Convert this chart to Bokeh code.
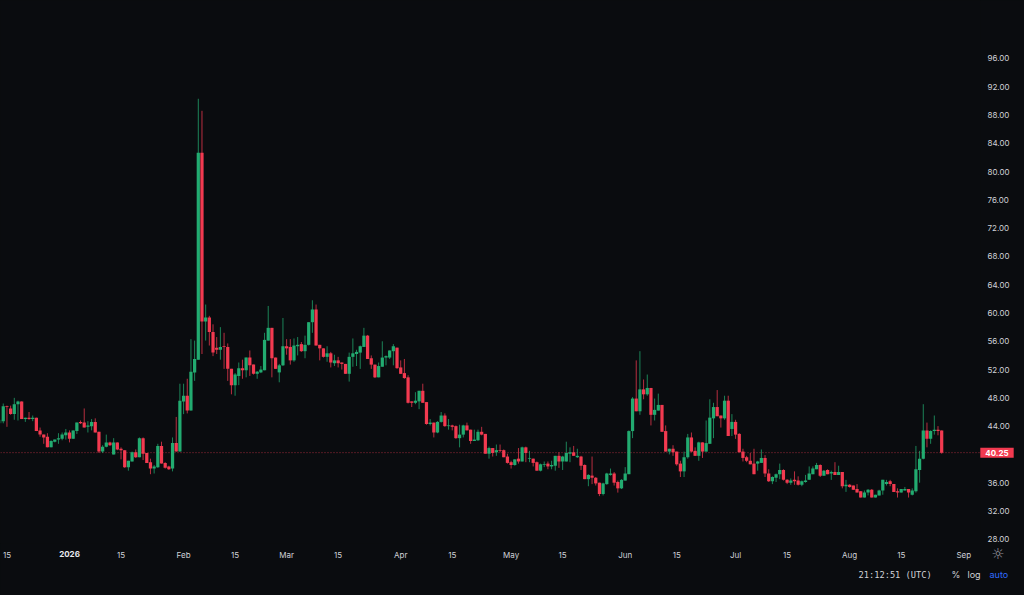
import pandas as pd
from bokeh.embed import file_html
from bokeh.resources import INLINE
from bokeh.plotting import figure
from bokeh.models import (ColumnDataSource, FixedTicker, Label, Span, Range1d,
                          NumeralTickFormatter, GlobalInlineStyleSheet)

first_day = "2025-12-13"
last_day = "2026-08-26"
last_price = 40.25

opens = [44.4,44.7,46.8,46.5,45.7,47.1,47.5,45.0,45.2,45.0,
 45.2,43.4,42.8,42.5,41.0,41.8,42.1,42.2,42.7,43.1,
 42.2,43.3,44.6,44.5,43.9,44.0,44.6,43.2,40.4,41.1,
 41.7,40.0,41.7,40.8,40.6,38.2,39.0,40.3,39.6,42.3,
 40.2,38.9,38.0,38.2,41.2,38.8,38.3,38.0,41.6,40.4,
 47.5,48.3,46.2,51.6,53.4,82.65,58.8,59.35,57.3,55.1,
 54.8,55.3,55.2,52.1,49.8,51.1,52.2,51.9,53.7,52.7,
 51.4,51.6,51.9,56.1,57.9,53.7,51.6,52.6,55.3,55.2,
 53.3,55.3,55.6,54.6,55.5,58.7,60.5,55.5,55.0,53.8,
 54.3,52.9,53.3,53.0,52.8,51.4,53.8,54.2,54.4,55.2,
 56.8,53.6,52.7,50.9,52.4,53.7,53.7,54.6,55.1,52.3,
 51.5,50.9,47.5,47.3,47.5,49.0,47.4,44.3,44.5,43.1,
 44.6,45.5,44.0,44.1,44.0,42.3,42.8,44.1,43.5,41.9,
 42.0,43.2,42.9,40.1,40.9,40.3,40.6,40.6,39.7,38.9,
 38.5,39.4,39.0,41.0,39.4,39.4,38.9,37.7,38.5,38.7,
 38.3,38.4,39.8,39.0,39.0,40.1,40.3,39.6,39.7,38.5,
 36.5,37.0,36.7,36.0,34.4,35.8,37.1,37.3,36.1,35.2,
 36.3,37.2,43.3,47.9,46.1,49.2,48.5,49.4,45.6,46.2,
 47.0,43.3,40.4,40.8,40.4,38.7,37.6,39.6,42.4,40.5,
 39.8,41.7,40.4,41.5,45.1,46.7,45.5,45.1,47.6,43.6,
 44.6,42.9,40.4,39.6,39.1,38.7,38.7,38.8,39.5,37.3,
 36.2,36.7,37.2,37.8,36.4,36.0,36.4,36.3,35.7,36.1,
 36.4,37.2,37.9,38.5,37.0,37.8,37.3,37.5,37.1,37.5,
 35.5,35.7,35.6,35.1,34.8,33.9,34.6,35.0,33.9,34.2,
 34.9,35.8,36.2,35.8,34.8,34.6,34.9,35.1,34.3,34.8,
 37.8,39.4,43.4,42.2,43.3,43.5,43.4]

closes = [44.9,46.8,46.7,45.7,47.1,47.5,45.0,45.2,45.0,45.2,
 43.3,42.8,42.4,41.0,41.9,42.1,42.3,42.8,43.1,42.2,
 43.4,44.5,44.4,43.8,44.1,44.6,43.1,40.4,41.1,41.7,
 41.3,41.7,40.7,40.6,38.2,39.1,40.3,39.6,42.3,40.1,
 38.8,38.0,38.3,41.2,38.7,38.1,37.9,41.6,40.4,47.6,
 48.3,46.2,51.7,53.5,82.65,58.8,59.35,57.3,54.4,54.8,
 55.2,55.2,52.1,49.8,51.3,52.2,51.9,53.7,52.6,51.4,
 51.7,52.0,56.2,57.9,53.6,52.1,52.6,55.3,55.0,53.3,
 55.4,55.5,54.6,55.5,58.7,60.5,55.4,55.0,53.8,54.3,
 53.0,53.3,52.9,52.8,51.4,53.8,54.3,54.5,55.3,56.8,
 53.5,52.7,50.9,52.5,53.7,53.9,54.7,55.3,52.2,51.4,
 50.8,47.3,47.3,47.6,49.0,47.3,44.3,44.5,43.1,44.6,
 45.5,44.0,44.1,43.9,42.3,42.8,44.1,43.4,41.9,42.1,
 43.2,42.8,40.1,40.9,40.2,40.6,40.5,39.6,38.8,38.5,
 39.3,39.0,41.0,40.2,39.5,38.8,37.7,38.6,38.6,38.3,
 38.5,39.8,39.0,39.7,40.2,40.3,39.8,39.8,38.4,36.5,
 37.1,36.7,35.9,34.4,35.9,37.3,37.3,36.0,35.2,36.4,
 37.3,43.3,47.9,46.1,49.2,48.5,49.4,45.6,46.3,47.0,
 43.2,40.4,40.8,40.3,38.6,37.6,39.6,42.4,40.4,39.8,
 41.7,40.4,41.6,45.2,46.7,45.4,45.1,47.6,42.6,44.6,
 42.8,40.3,39.5,39.1,38.6,37.2,39.0,39.5,37.3,36.2,
 36.8,37.2,37.8,36.4,36.0,36.3,36.2,35.7,36.2,36.3,
 37.3,38.0,38.5,37.0,37.7,37.2,37.5,37.1,37.5,35.5,
 35.7,35.4,35.0,34.6,33.9,34.6,35.0,33.9,34.3,34.9,
 36.4,36.1,35.8,34.7,34.6,35.1,35.1,34.6,34.9,37.9,
 39.4,43.4,42.2,43.3,43.5,43.3,40.25]

highs = [45.1,47.2,46.9,46.9,48.0,47.6,47.5,45.2,46.0,45.5,
 45.2,43.8,42.8,43.0,42.0,42.1,43.0,43.1,43.6,43.4,
 43.4,44.5,44.8,46.5,44.7,45.0,45.1,43.2,41.3,42.8,
 41.8,42.3,41.7,41.0,40.6,39.1,40.4,40.7,42.4,42.4,
 40.2,39.4,38.5,41.5,41.8,38.9,38.4,42.4,45.3,50.0,
 50.0,50.7,56.3,56.1,90.3,88.6,61.2,59.6,58.4,56.6,
 58.0,57.2,55.7,52.1,51.5,53.0,53.4,53.7,54.7,52.7,
 51.8,52.5,57.2,61.0,57.9,53.7,52.8,59.3,56.3,56.3,
 56.4,56.6,55.9,56.8,58.7,61.8,61.2,55.5,55.0,55.3,
 54.5,54.1,53.8,53.0,52.8,54.4,56.4,54.8,55.4,57.9,
 56.9,54.0,52.7,53.0,56.0,54.0,54.7,55.6,55.1,53.3,
 53.5,51.2,47.5,48.8,49.0,50.0,47.4,45.0,44.5,44.7,
 46.0,45.8,45.0,44.2,44.1,44.2,44.2,44.5,43.5,43.5,
 43.5,43.9,42.9,41.1,40.9,41.4,41.4,40.7,40.1,39.1,
 39.3,40.9,41.1,41.1,40.5,39.4,39.0,38.7,39.0,39.0,
 39.1,39.8,40.3,39.8,41.8,41.0,41.2,40.8,39.8,38.6,
 37.2,39.7,36.8,36.0,36.0,37.4,38.0,37.5,36.3,36.5,
 38.2,43.4,48.1,53.3,54.6,50.6,51.3,49.4,47.9,48.6,
 47.0,44.1,40.8,41.3,40.4,39.1,40.4,42.9,43.1,41.0,
 41.8,41.7,44.8,47.8,47.3,49.1,45.5,48.3,48.3,45.7,
 44.9,43.0,40.8,39.8,40.2,40.8,39.1,40.7,39.9,37.9,
 36.9,37.3,38.7,37.9,36.5,36.6,37.6,36.9,36.3,37.1,
 38.3,38.3,38.8,38.6,37.8,37.9,37.7,38.9,38.4,37.5,
 36.4,35.8,35.6,35.8,34.8,34.9,35.1,35.1,34.3,35.0,
 36.4,36.4,36.4,35.8,35.2,35.1,35.4,35.1,35.2,41.2,
 40.5,47.1,44.5,43.4,45.5,44.0,43.4]

lows = [44.2,44.4,43.9,45.6,44.9,44.8,45.0,44.6,44.9,44.7,
 43.3,42.5,41.5,41.0,41.0,41.7,41.5,42.0,42.1,41.7,
 42.2,42.9,44.3,43.8,43.1,43.4,43.1,40.2,40.2,41.0,
 41.2,40.0,40.6,39.3,38.1,37.7,39.0,39.5,39.6,39.2,
 38.8,37.2,37.3,38.1,38.7,38.0,37.8,37.6,40.4,40.4,
 45.7,45.8,46.2,50.4,53.4,54.2,56.1,55.4,53.9,54.2,
 53.4,52.1,50.4,48.5,48.3,49.8,50.7,50.9,51.1,51.3,
 50.7,51.5,51.9,56.1,50.9,52.1,50.2,52.5,54.1,52.7,
 53.1,54.0,54.5,53.6,55.4,57.2,55.4,53.3,53.7,53.1,
 52.3,52.5,52.3,52.0,51.4,50.3,52.4,52.5,52.1,55.2,
 53.5,52.1,50.8,50.9,52.4,52.6,53.5,52.6,52.1,51.4,
 50.7,47.2,46.7,47.1,46.4,47.3,44.2,44.1,42.4,43.0,
 44.5,43.9,43.5,43.4,42.2,41.0,42.4,43.4,41.5,41.9,
 41.9,42.7,40.1,39.4,39.7,39.8,40.3,39.6,38.7,38.0,
 38.4,38.7,39.0,38.9,38.9,38.3,37.7,37.6,38.2,37.9,
 37.9,37.7,38.1,37.8,39.0,38.9,39.8,39.5,37.8,36.5,
 35.5,35.8,35.6,34.1,34.2,35.7,37.0,35.6,34.6,35.1,
 36.3,37.2,42.3,46.1,45.6,47.8,48.3,44.1,44.8,46.2,
 43.2,40.4,40.0,39.8,38.4,36.8,36.8,39.4,40.3,39.8,
 39.1,39.5,40.4,41.5,42.3,45.4,43.8,44.9,42.6,42.6,
 42.2,40.3,39.0,38.9,38.6,37.2,37.7,38.8,36.8,36.1,
 35.8,36.1,36.5,36.3,35.8,35.7,35.7,35.6,35.5,36.0,
 36.4,37.2,37.9,36.8,37.0,37.2,36.4,37.1,37.1,35.2,
 34.7,35.3,35.0,34.6,33.9,33.9,34.2,33.9,33.9,34.2,
 34.3,35.6,35.5,34.7,33.9,34.6,34.9,33.9,34.2,34.6,
 36.0,39.3,41.0,41.5,42.8,42.7,40.1]

price_ticks = [28, 32, 36, 40, 44, 48, 52, 56, 60, 64, 68, 72, 76, 80, 84, 88, 92, 96]
date_ticks = ["2025-12-15", "2026-01-15", "2026-02-01", "2026-02-15", "2026-03-01",
              "2026-03-15", "2026-04-01", "2026-04-15", "2026-05-01", "2026-05-15",
              "2026-06-01", "2026-06-15", "2026-07-01", "2026-07-15", "2026-08-01",
              "2026-08-15", "2026-09-01"]
date_labels = ["15", "15", "Feb", "15", "Mar", "15", "Apr", "15", "May", "15",
               "Jun", "15", "Jul", "15", "Aug", "15", "Sep"]

BG = "#0a0c0f"
UP = "#22ab70"
DOWN = "#f23a50"
TXT = "#d0d2d8"

dates = pd.date_range(first_day, last_day)
df = pd.DataFrame(dict(date=dates, o=opens, h=highs, l=lows, c=closes))
df["top"] = df[["o", "c"]].max(axis=1)
df["bottom"] = df[["o", "c"]].min(axis=1)
up = df[df.c >= df.o]
down = df[df.c < df.o]

DAY = pd.Timedelta(days=1)
x0 = pd.Timestamp("2026-01-01") - 18.75 * DAY
x1 = pd.Timestamp("2026-01-01") + 247.55 * DAY

p = figure(width=1024, height=595, frame_width=980, frame_height=543,
           x_axis_type="datetime", output_backend="svg", toolbar_location=None,
           x_range=Range1d(x0, x1), y_range=Range1d(27.4, 104.2),
           background_fill_color=BG, border_fill_color=BG, outline_line_color=None,
           min_border_left=0, min_border_top=0, min_border_right=44, min_border_bottom=52,
           y_axis_location="right")
p.stylesheets = [GlobalInlineStyleSheet(css=f"html,body{{margin:0;padding:0;background:{BG};overflow:hidden}}")]
p.grid.visible = False

ms = [pd.Timestamp(t).value // 10**6 for t in date_ticks]
xa = p.xaxis[0]
xa.ticker = FixedTicker(ticks=ms)
xa.major_label_overrides = dict(zip(ms, date_labels))
xa.axis_line_color = None
xa.major_tick_line_color = None
xa.minor_tick_line_color = None
xa.major_tick_out = 0
xa.major_tick_in = 0
xa.major_label_text_color = TXT
xa.major_label_text_font = "Inter"
xa.major_label_text_font_size = "8px"
xa.major_label_standoff = 6

ya = p.yaxis[0]
ya.ticker = FixedTicker(ticks=price_ticks)
ya.formatter = NumeralTickFormatter(format="0.00")
ya.axis_line_color = None
ya.major_tick_line_color = None
ya.minor_tick_line_color = None
ya.major_tick_out = 0
ya.major_tick_in = 0
ya.major_label_text_color = TXT
ya.major_label_text_font = "Inter"
ya.major_label_text_font_size = "8px"
ya.major_label_standoff = 7

p.add_layout(Span(location=last_price, dimension="width", line_color="#a02a3c",
                  line_dash="1 2", line_width=1, level="underlay"))

for frame, color in ((up, UP), (down, DOWN)):
    src = ColumnDataSource(frame)
    p.segment("date", "h", "date", "l", source=src, line_color=color, line_width=0.75)
    p.vbar("date", width=0.88 * DAY, top="top", bottom="bottom", source=src,
           fill_color=color, line_color=None)

def label(x, y, text, color=TXT, font="Inter", size="9px", style="normal", **kw):
    p.add_layout(Label(x=x, y=y, x_units="canvas", y_units="canvas", text=text,
                       text_color=color, text_font=font, text_font_size=size,
                       text_font_style=style, text_baseline="middle", **kw), "below")

label(69, 553, "2026", color="#e8eaee", size="8px", style="bold", text_align="center")
label(997.5, 553, "☼", font="DejaVu Sans", size="15px", text_align="center", color="#9a9da5")
label(858, 574, "21:12:51 (UTC)", font="DejaVu Sans Mono", size="8.7px")
label(951, 574, "%")
label(967, 574, "log")
label(989, 574, "auto", color="#2f6bff")

p.add_layout(Label(x=996.5, y=last_price, x_units="canvas", text=f"{last_price:.2f}",
                   text_color="#ffffff", text_font="Inter", text_font_size="8px",
                   text_font_style="bold", text_align="center", text_baseline="middle",
                   background_fill_color=DOWN, padding=(5, 2)), "right")

open("out.html", "w").write(file_html(p, INLINE))
